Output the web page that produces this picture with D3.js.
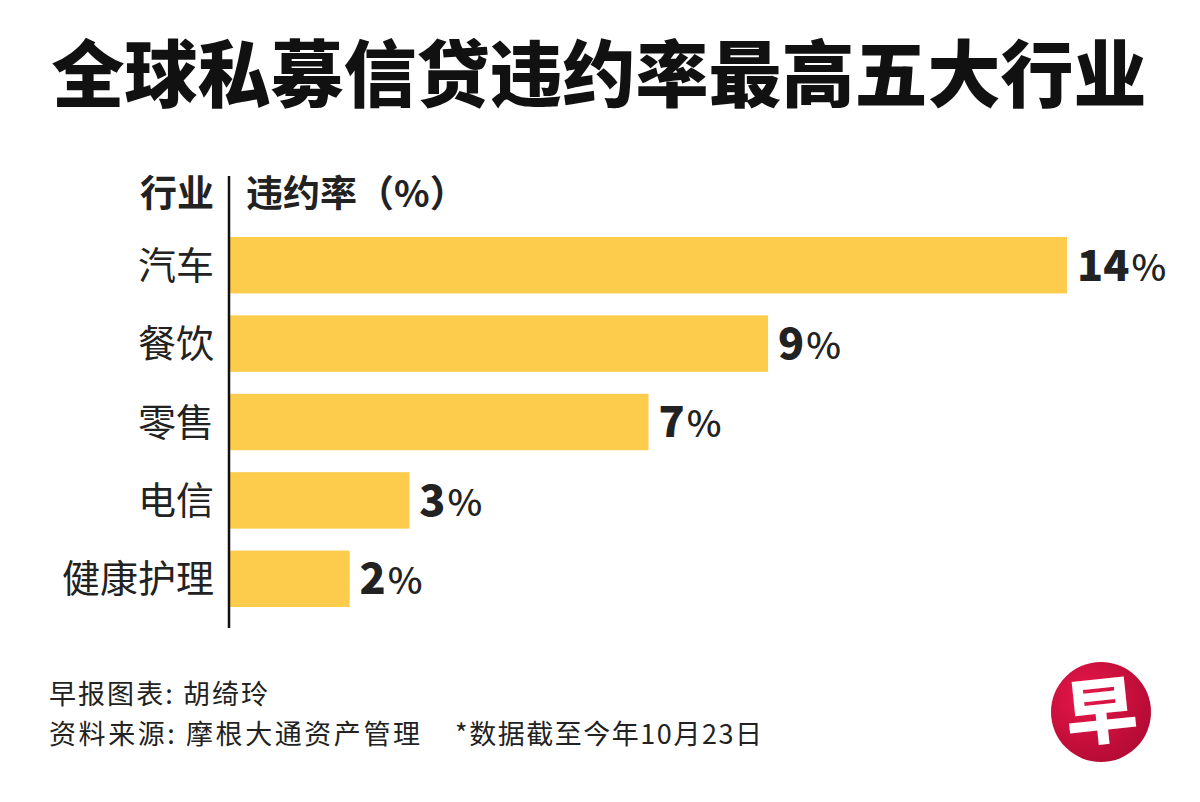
<!DOCTYPE html>
<html>
<head>
<meta charset="utf-8">
<script src="https://cdn.jsdelivr.net/npm/d3@7.9.0/dist/d3.min.js"></script>
<style>
  body { margin: 0; background: #fff; }
  svg { display: block; font-family: "Noto Sans CJK SC", "Noto Sans", sans-serif; }
</style>
</head>
<body>
<svg id="chart" width="1200" height="802"></svg>
<script>
// data
const industries = ['汽车', '餐饮', '零售', '电信', '健康护理'];
const rates = [14, 9, 7, 3, 2];

const title = '全球私募信贷违约率最高五大行业';
const credit = '早报图表: 胡绮玲';
const source = '资料来源: 摩根大通资产管理';
const note = '*数据截至今年10月23日';

const svg = d3.select('#chart');

// title
svg.append('text')
    .attr('x', 599)
    .attr('y', 101)
    .attr('text-anchor', 'middle')
    .attr('font-size', 73)
    .attr('font-weight', 900)
    .attr('fill', '#111')
    .text(title);

// scales
const x = d3.scaleLinear().domain([0, 14]).range([230, 1067]);
const y = d3.scaleBand().domain(industries).range([226, 618]).paddingInner(0.28).paddingOuter(0.14);

// header row
svg.append('text')
    .attr('x', 214).attr('y', 194).attr('dy', '0.36em')
    .attr('text-anchor', 'end')
    .attr('font-size', 37).attr('font-weight', 700).attr('fill', '#222')
    .text('行业');
svg.append('text')
    .attr('x', 246).attr('y', 194).attr('dy', '0.36em')
    .attr('font-size', 37).attr('font-weight', 700).attr('fill', '#222')
    .text('违约率（%）');

// bars
svg.selectAll('rect.bar')
    .data(rates)
    .join('rect')
    .attr('class', 'bar')
    .attr('x', x(0))
    .attr('y', (d, i) => y(industries[i]))
    .attr('width', d => x(d) - x(0))
    .attr('height', y.bandwidth())
    .attr('fill', '#FDCC4C');

// category labels
svg.selectAll('text.cat')
    .data(industries)
    .join('text')
    .attr('class', 'cat')
    .attr('x', 214)
    .attr('y', d => y(d) + y.bandwidth() / 2)
    .attr('dy', '0.36em')
    .attr('text-anchor', 'end')
    .attr('font-size', 38)
    .attr('fill', '#222')
    .text(d => d);

// value labels
const vals = svg.selectAll('text.val')
    .data(rates)
    .join('text')
    .attr('class', 'val')
    .attr('x', d => x(d) + 10)
    .attr('y', (d, i) => y(industries[i]) + y.bandwidth() / 2)
    .attr('dy', '0.36em')
    .attr('font-size', 43)
    .attr('fill', '#222');
vals.append('tspan').attr('font-weight', 900).text(d => d);
vals.append('tspan').attr('font-weight', 500).attr('font-size', 37).attr('dx', 2).text('%');

// vertical axis line
svg.append('line')
    .attr('x1', 229).attr('x2', 229)
    .attr('y1', 176).attr('y2', 628)
    .attr('stroke', '#111').attr('stroke-width', 2.5);

// footer (widths stretched to match the original's spacing)
const foot = svg.append('g')
    .attr('font-size', 27)
    .attr('fill', '#222');
foot.append('text').attr('x', 49).attr('y', 704)
    .attr('textLength', 219).attr('lengthAdjust', 'spacing').text(credit);
foot.append('text').attr('x', 49).attr('y', 744)
    .attr('textLength', 371).attr('lengthAdjust', 'spacing').text(source);
foot.append('text').attr('x', 455).attr('y', 744)
    .attr('textLength', 307).attr('lengthAdjust', 'spacing').text(note);

// logo
const defs = svg.append('defs');
const grad = defs.append('radialGradient').attr('id', 'logoGrad')
    .attr('cx', '35%').attr('cy', '35%').attr('r', '75%');
grad.append('stop').attr('offset', '0%').attr('stop-color', '#E8174A');
grad.append('stop').attr('offset', '100%').attr('stop-color', '#B00A32');
svg.append('circle')
    .attr('cx', 1101).attr('cy', 712).attr('r', 50)
    .attr('fill', 'url(#logoGrad)');
svg.append('text')
    .attr('x', 1101).attr('y', 712)
    .attr('dy', '0.36em')
    .attr('text-anchor', 'middle')
    .attr('font-size', 72)
    .attr('font-weight', 900)
    .attr('fill', '#fff')
    .attr('transform', 'rotate(-6 1101 712)')
    .text('早');
</script>
</body>
</html>
